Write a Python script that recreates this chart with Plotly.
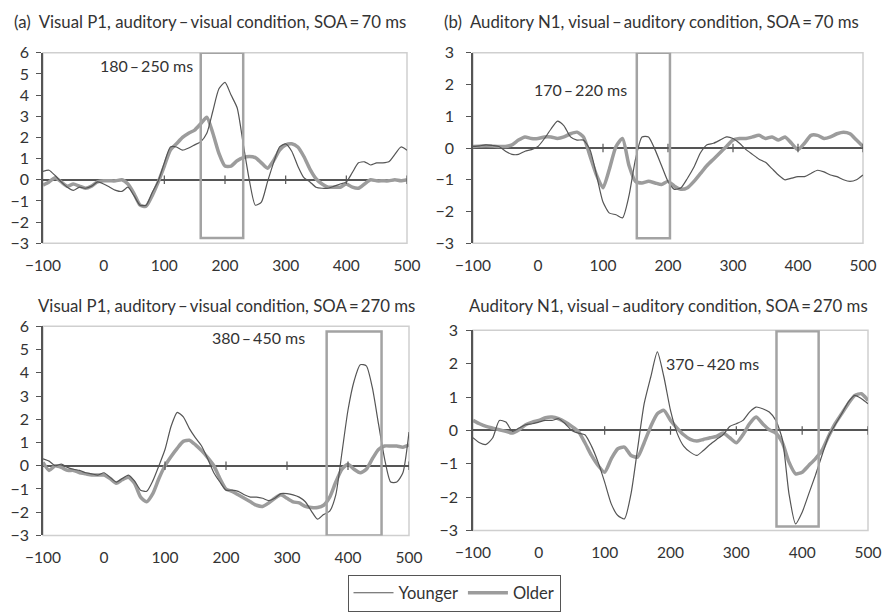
import plotly.graph_objects as go

# ---------------- data ----------------
t = [-100, -90, -80, -70, -60, -50, -40, -30, -20, -10, 0, 10, 20, 30, 40, 50, 60, 70, 80, 90,
     100, 110, 120, 130, 140, 150, 160, 170, 180, 190, 200, 210, 220, 230, 240, 250, 260, 270, 280, 290,
     300, 310, 320, 330, 340, 350, 360, 370, 380, 390, 400, 410, 420, 430, 440, 450, 460, 470, 480, 490, 500]

# (a) Visual P1, auditory-visual, SOA 70
a_young = [0.4, 0.45, 0.2, -0.1, -0.35, -0.5, -0.35, -0.4, -0.3, -0.1, -0.2, -0.35, -0.5, -0.55, -0.35, -0.75, -1.2, -1.2, -0.6, -0.05,
           0.8, 1.55, 1.55, 1.4, 1.5, 1.65, 1.8, 2.2, 3.25, 4.3, 4.6, 4.0, 3.4, 1.7, 0.0, -1.2, -1.05, -0.1, 0.8, 1.55,
           1.7, 1.35, 0.65, 0.1, -0.1, -0.35, -0.4, -0.4, -0.3, -0.2, -0.1, 0.35, 0.8, 0.85, 0.7, 0.8, 0.8, 0.85, 1.2, 1.55, 1.4]
a_old = [-0.25, -0.1, 0.1, -0.1, -0.3, -0.2, -0.3, -0.4, -0.3, -0.1, -0.05, -0.05, -0.05, 0.0, -0.2, -0.65, -1.2, -1.25, -0.75, -0.1,
         0.65, 1.4, 1.7, 2.0, 2.2, 2.35, 2.65, 2.95, 2.2, 1.25, 0.65, 0.65, 0.9, 1.05, 1.1, 1.05, 0.8, 0.55, 0.9, 1.4,
         1.65, 1.7, 1.55, 1.1, 0.5, 0.05, -0.2, -0.35, -0.35, -0.35, -0.2, -0.35, -0.4, -0.2, 0.0, -0.05, -0.05, -0.05, 0.0, -0.05, 0.0]

# (b) Auditory N1, visual-auditory, SOA 70
b_young = [0.05, 0.07, 0.1, 0.08, 0.05, -0.1, -0.2, -0.2, -0.1, -0.05, 0.05, 0.3, 0.6, 0.85, 0.7, 0.35, 0.25, 0.25, -0.05, -0.85,
           -1.7, -2.05, -2.1, -2.2, -1.5, -0.35, 0.35, 0.35, -0.05, -0.55, -1.05, -1.3, -1.25, -0.95, -0.6, -0.15, 0.1, 0.15, 0.25, 0.35,
           0.3, 0.15, -0.05, -0.2, -0.35, -0.45, -0.65, -0.85, -1.0, -0.95, -0.9, -0.9, -0.8, -0.7, -0.75, -0.85, -0.9, -1.0, -1.05, -1.0, -0.85]
b_old = [0.05, 0.06, 0.07, 0.06, 0.05, 0.05, 0.1, 0.25, 0.35, 0.3, 0.3, 0.35, 0.35, 0.3, 0.35, 0.45, 0.5, 0.35, -0.25, -0.85,
         -1.25, -0.65, 0.05, 0.3, -0.55, -1.05, -1.1, -1.05, -1.1, -1.15, -1.05, -1.2, -1.3, -1.25, -1.05, -0.8, -0.55, -0.35, -0.15, 0.05,
         0.25, 0.3, 0.3, 0.35, 0.4, 0.3, 0.35, 0.25, 0.35, 0.15, -0.05, 0.15, 0.4, 0.4, 0.3, 0.35, 0.45, 0.5, 0.45, 0.25, 0.05]

# (c) Visual P1, auditory-visual, SOA 270
c_young = [0.3, 0.2, 0.0, 0.07, -0.07, -0.15, -0.2, -0.3, -0.35, -0.4, -0.3, -0.5, -0.7, -0.55, -0.4, -0.65, -1.05, -1.1, -0.65, 0.0,
           0.7, 1.7, 2.3, 2.1, 1.6, 1.2, 0.85, 0.3, -0.3, -0.7, -1.05, -1.05, -1.1, -1.25, -1.35, -1.35, -1.4, -1.5, -1.4, -1.2,
           -1.2, -1.25, -1.35, -1.55, -1.95, -2.3, -2.1, -1.95, -1.25, 0.55, 2.4, 3.65, 4.35, 4.3, 3.35, 1.8, 0.3, -0.7, -0.7, -0.3, 1.45]
c_old = [0.15, -0.2, 0.0, -0.07, -0.2, -0.2, -0.3, -0.35, -0.4, -0.4, -0.4, -0.55, -0.75, -0.6, -0.5, -0.75, -1.35, -1.55, -1.2, -0.55,
         0.0, 0.4, 0.75, 1.05, 1.1, 0.9, 0.65, 0.35, 0.0, -0.55, -1.0, -1.1, -1.25, -1.4, -1.55, -1.7, -1.75, -1.6, -1.4, -1.25,
         -1.4, -1.55, -1.6, -1.75, -1.8, -1.8, -1.7, -1.35, -0.7, -0.15, 0.07, -0.15, -0.3, -0.15, 0.3, 0.7, 0.85, 0.85, 0.85, 0.8, 0.9]

# (d) Auditory N1, visual-auditory, SOA 270
d_young = [-0.22, -0.37, -0.42, -0.22, 0.3, 0.25, -0.03, 0.07, 0.17, 0.2, 0.25, 0.3, 0.3, 0.35, 0.2, 0.0, -0.08, -0.13, -0.47, -0.95,
           -1.55, -2.2, -2.55, -2.65, -1.9, -0.55, 0.8, 1.6, 2.35, 1.6, 0.6, -0.08, -0.47, -0.65, -0.75, -0.6, -0.42, -0.27, -0.13, 0.12,
           0.2, 0.3, 0.55, 0.7, 0.65, 0.55, 0.3, -0.27, -1.9, -2.8, -2.45, -1.9, -1.35, -0.75, -0.18, 0.17, 0.5, 0.85, 1.05, 0.95, 0.8]
d_old = [0.3, 0.2, 0.12, 0.07, 0.02, -0.03, -0.08, 0.02, 0.17, 0.25, 0.3, 0.38, 0.4, 0.35, 0.25, 0.12, -0.03, -0.37, -0.75, -1.05,
         -1.25, -0.85, -0.55, -0.5, -0.75, -0.8, -0.37, 0.12, 0.5, 0.6, 0.3, 0.07, -0.13, -0.27, -0.32, -0.27, -0.22, -0.18, -0.08, -0.22,
         -0.37, -0.13, 0.2, 0.4, 0.2, 0.02, -0.08, -0.37, -0.95, -1.3, -1.25, -1.05, -0.85, -0.6, -0.18, 0.2, 0.5, 0.8, 1.05, 1.1, 0.9]

titles = ["(a)  Visual P1, auditory\u2009\u2013\u2009visual condition, SOA\u2009=\u200970 ms",
          "(b)  Auditory N1, visual\u2009\u2013\u2009auditory condition, SOA\u2009=\u200970 ms",
          "Visual P1, auditory\u2009\u2013\u2009visual condition, SOA\u2009=\u2009270 ms",
          "Auditory N1, visual\u2009\u2013\u2009auditory condition, SOA\u2009=\u2009270 ms"]
window_labels = ["180\u2009\u2013\u2009250 ms", "170\u2009\u2013\u2009220 ms", "380\u2009\u2013\u2009450 ms", "370\u2009\u2013\u2009420 ms"]
window_boxes = [(160, 230, -2.75, 6.0), (152, 203, -2.84, 3.0), (365, 455, -3.0, 5.78), (361, 425, -2.88, 2.97)]
label_pos = [(70, 5.4), (65, 1.84), (254, 5.54), (264, 2.0)]
y_ranges = [(-3, 6), (-3, 3), (-3, 6), (-3, 3)]
x_ticks = [-100, 0, 100, 200, 300, 400, 500]
zero_ticks = [100, 200, 300, 400, 500]

# ---------------- layout geometry ----------------
W, H = 883, 612
px_boxes = [(43, 407, 54, 249), (473, 863, 54, 249), (43, 409, 334, 548), (473, 868, 338, 543)]
title_pos = [(12, 22), (442, 22), (36, 313), (467, 313)]
ylabel_standoff = [4, 9, 4, 5]

FONT = "Lato"
YOUNG_C = "#555555"
OLD_C = "#9c9c9c"
BOX_C = "#a3a3a3"

fig = go.Figure()
young_sets = [a_young, b_young, c_young, d_young]
old_sets = [a_old, b_old, c_old, d_old]

layout = dict(width=W, height=H, margin=dict(l=0, r=0, t=0, b=0),
              paper_bgcolor="white", plot_bgcolor="white",
              font=dict(family=FONT, color="#333333"))
shapes = []
annotations = []

for i in range(4):
    n = "" if i == 0 else str(i + 1)
    xa, ya = "x" + n, "y" + n
    x0p, x1p, y0p, y1p = px_boxes[i]
    layout["xaxis" + n] = dict(domain=[x0p / W, x1p / W], range=[-100, 500], anchor=ya,
                               tickvals=x_ticks, showgrid=False, zeroline=False, automargin=False,
                               showline=False, ticks="", tickfont=dict(size=15.5, family=FONT, color="#333"),
                               ticklabelstandoff=11)
    layout["yaxis" + n] = dict(domain=[1 - y1p / H, 1 - y0p / H], range=list(y_ranges[i]), anchor=xa,
                               dtick=1, showgrid=False, zeroline=True, zerolinecolor="#555555", zerolinewidth=1.5,
                               showline=True, linecolor="#555555", linewidth=1.5, ticks="outside", automargin=False,
                               ticklen=5, tickcolor="#555555", tickfont=dict(size=16, family=FONT, color="#333"),
                               ticklabelstandoff=ylabel_standoff[i])
    # light frame
    shapes.append(dict(type="rect", xref=xa + " domain", yref=ya + " domain", x0=0, x1=1, y0=0, y1=1,
                       line=dict(color="#cfcfcf", width=1.5), layer="below"))
    # time window box
    bx0, bx1, by0, by1 = window_boxes[i]
    shapes.append(dict(type="rect", xref=xa, yref=ya, x0=bx0, x1=bx1, y0=by0, y1=by1,
                       line=dict(color=BOX_C, width=2.5), layer="above"))
    lx, ly = label_pos[i]
    annotations.append(dict(x=lx, y=ly, xref=xa, yref=ya, text=window_labels[i], showarrow=False,
                            font=dict(size=16, family=FONT, color="#333")))
    tx, ty = title_pos[i]
    annotations.append(dict(x=tx / W, y=1 - ty / H, xref="paper", yref="paper", xanchor="left", yanchor="middle",
                            text=titles[i], showarrow=False, font=dict(size=16.8, family=FONT, color="#333")))

    fig.add_trace(go.Scatter(x=t, y=old_sets[i], mode="lines", name="Older", legendgroup="Older",
                             showlegend=(i == 0), xaxis=xa, yaxis=ya,
                             line=dict(color=OLD_C, width=3.5, shape="spline", smoothing=0.6)))
    fig.add_trace(go.Scatter(x=t, y=young_sets[i], mode="lines", name="Younger", legendgroup="Younger",
                             showlegend=(i == 0), xaxis=xa, yaxis=ya,
                             line=dict(color=YOUNG_C, width=1.2, shape="spline", smoothing=0.6)))
    # small ticks on the zero line
    fig.add_trace(go.Scatter(x=zero_ticks, y=[0] * len(zero_ticks), mode="markers", showlegend=False,
                             hoverinfo="skip", xaxis=xa, yaxis=ya,
                             marker=dict(symbol="line-ns", size=6, line=dict(color="#555555", width=1.2))))

layout["shapes"] = shapes
layout["annotations"] = annotations
layout["showlegend"] = True
layout["legend"] = dict(orientation="h", x=454 / W, xanchor="center", y=1 - 588 / H, yanchor="top",
                        bordercolor="#555555", borderwidth=1, traceorder="reversed",
                        font=dict(size=16.5, family=FONT, color="#333"), itemwidth=40)
fig.update_layout(**layout)
fig.write_html("out.html")
